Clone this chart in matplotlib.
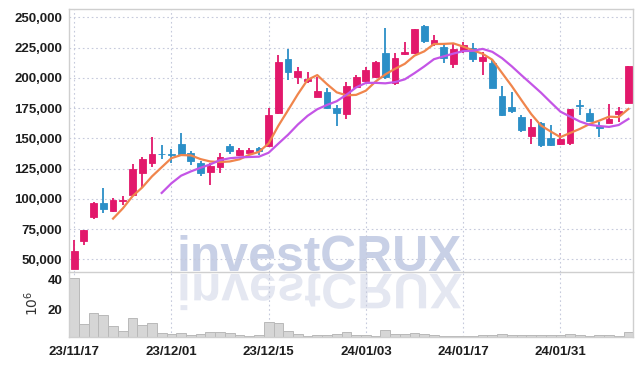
import numpy as np
import pandas as pd
import matplotlib
matplotlib.use('Agg')
import matplotlib.pyplot as plt
from matplotlib.textpath import TextPath
from matplotlib.patches import PathPatch
from matplotlib.font_manager import FontProperties
from matplotlib.transforms import Affine2D

# trading days
dates = ['23/11/17', '23/11/20', '23/11/21', '23/11/22', '23/11/23', '23/11/24',
         '23/11/27', '23/11/28', '23/11/29', '23/11/30', '23/12/01', '23/12/04',
         '23/12/05', '23/12/06', '23/12/07', '23/12/08', '23/12/11', '23/12/12',
         '23/12/13', '23/12/14', '23/12/15', '23/12/18', '23/12/19', '23/12/20',
         '23/12/21', '23/12/22', '23/12/26', '23/12/27', '23/12/28', '24/01/02',
         '24/01/03', '24/01/04', '24/01/05', '24/01/08', '24/01/09', '24/01/10',
         '24/01/11', '24/01/12', '24/01/15', '24/01/16', '24/01/17', '24/01/18',
         '24/01/19', '24/01/22', '24/01/23', '24/01/24', '24/01/25', '24/01/26',
         '24/01/29', '24/01/30', '24/01/31', '24/02/01', '24/02/02', '24/02/05',
         '24/02/06', '24/02/07', '24/02/08', '24/02/13']

opens = [42000, 65400, 85200, 96300, 90200, 98500, 103100, 121600, 129800, 137300,
         137000, 145300, 138100, 129600, 122400, 126500, 143600, 136000, 138100, 142000,
         143600, 171200, 215500, 200900, 197400, 184400, 188500, 174800, 169800, 192200,
         197400, 200700, 220700, 195500, 219400, 220300, 243100, 227700, 225700, 211200,
         222400, 224400, 214100, 212500, 185000, 176100, 167900, 152200, 162600, 150000,
         145000, 146400, 177200, 170700, 160200, 162900, 169800, 179400]
highs = [66000, 74500, 97000, 108700, 100900, 102300, 128500, 134300, 150800, 144500,
         140900, 154100, 139800, 131500, 129300, 137600, 145300, 142200, 141700, 142500,
         174800, 218800, 223600, 208700, 204500, 200400, 191300, 177500, 196800, 202100,
         208700, 214100, 240900, 220300, 229800, 240500, 243500, 235400, 228500, 227900,
         229800, 228500, 221100, 214700, 193200, 188500, 169300, 165700, 163700, 161000,
         154100, 174500, 181700, 174000, 163700, 178400, 175600, 210000]
lows = [42000, 61800, 83000, 88000, 88900, 94900, 103000, 110000, 126500, 132700,
        129300, 136200, 127900, 118800, 111400, 121600, 137000, 135400, 137600, 136200,
        142800, 170100, 198200, 194900, 195500, 184000, 174500, 160200, 165700, 191500,
        195500, 199600, 198800, 194100, 218800, 220000, 228500, 226300, 212500, 207900,
        220300, 213300, 202300, 191300, 168500, 170700, 155500, 145300, 142600, 143600,
        144500, 144500, 169300, 164000, 150800, 162500, 163700, 179000]
closes = [57000, 74200, 96500, 91300, 99000, 99000, 124600, 132900, 137000, 136900,
          136600, 137400, 131500, 121600, 127100, 134300, 139800, 140300, 140100, 139500,
          169300, 212800, 205000, 205600, 199000, 189100, 175300, 171200, 193200, 200900,
          206400, 213100, 200900, 216100, 221600, 240300, 230700, 231200, 216600, 223800,
          227100, 215300, 216900, 191800, 169300, 172800, 156900, 159600, 144500, 144500,
          149400, 174000, 176500, 164500, 158800, 165700, 172600, 209800]
# volume in millions of shares
volume = [40.7, 10.0, 17.3, 16.2, 8.9, 5.5, 14.0, 9.5, 10.7, 4.0,
          3.3, 4.0, 2.7, 3.3, 4.7, 4.7, 4.0, 2.9, 2.2, 2.9,
          11.3, 10.7, 5.3, 3.5, 1.9, 2.7, 2.7, 3.5, 4.7, 2.9,
          2.9, 2.2, 6.0, 3.5, 3.5, 4.0, 3.5, 2.9, 2.4, 2.4,
          2.2, 2.2, 2.7, 2.9, 3.3, 3.1, 3.1, 3.1, 3.1, 3.1,
          2.7, 3.3, 2.7, 2.2, 2.7, 2.7, 2.2, 4.7]

tick_dates = ['23/11/17', '23/12/01', '23/12/15', '24/01/03', '24/01/17', '24/01/31']
price_ticks = [50000, 75000, 100000, 125000, 150000, 175000, 200000, 225000, 250000]
vol_ticks = [20, 40]

UP = '#e2186b'
DOWN = '#2b8fc7'
GRID = '#c6cadc'
FRAME = '#cfcfcf'
TXT = '#1e1e1e'
tick_font = ['Liberation Sans', 'DejaVu Sans']

W, H = 643, 366
fig = plt.figure(figsize=(W / 100, H / 100), dpi=100)
fig.patch.set_facecolor('white')

L, R = 69.3, 633.3
ax = fig.add_axes([L / W, 1 - 272.3 / H, (R - L) / W, 263 / H])
axv = fig.add_axes([L / W, 1 - 337.3 / H, (R - L) / W, 65 / H], sharex=ax)
for a in (ax, axv):
    a.set_facecolor('none')

df = pd.DataFrame({'o': opens, 'h': highs, 'l': lows, 'c': closes, 'v': volume})
x = np.arange(len(dates))
colors = np.where(df.c >= df.o, UP, DOWN)

# candles
ax.vlines(x, df.l, df.h, color=colors, lw=1.3, zorder=2)
body = (df.c - df.o).abs().clip(lower=300)
ax.bar(x, body, bottom=np.minimum(df.o, df.c), width=0.7, color=colors,
       edgecolor=colors, lw=0.6, zorder=3)

# moving averages
ax.plot(x, df.c.rolling(5).mean(), color='#f0854c', lw=1.6, zorder=4)
ax.plot(x, df.c.rolling(10).mean(), color='#c455e6', lw=1.6, zorder=4)

# volume
axv.bar(x, df.v, width=1.0, color='#d6d6d6', edgecolor='#b9b9b9', lw=0.7, zorder=2)

ax.set_xlim(-0.5, len(dates) - 0.5)
ax.set_ylim(39200, 256700)
axv.set_ylim(1.3, 44.7)

ax.set_yticks(price_ticks)
ax.set_yticklabels([f'{p:,}' for p in price_ticks])
axv.set_yticks(vol_ticks)
axv.set_xticks([dates.index(d) for d in tick_dates])
axv.set_xticklabels(tick_dates)
ax.tick_params(axis='x', labelbottom=False)

for a in (ax, axv):
    a.grid(True, color=GRID, linestyle=(0, (1.5, 2.5)), lw=0.8, zorder=0)
    a.tick_params(length=0, pad=5, labelsize=9.5, labelcolor=TXT)
    for lab in a.get_xticklabels() + a.get_yticklabels():
        lab.set_family(tick_font)
        lab.set_fontweight('bold')
    for s in a.spines.values():
        s.set_color(FRAME)
        s.set_linewidth(1.0)
axv.grid(False, axis='y')
axv.spines['top'].set_visible(False)
axv.tick_params(axis='x', pad=6)

fig.text(31.7 / W, 1 - 303 / H, r'$10^6$', rotation=90, ha='center', va='center',
         fontsize=10, color='#333333')

# watermark with reflection
wm = 'investCRUX'
wm_pt = 35.9
wx, wy = 177, 271
fig.text(wx / W, 1 - wy / H, wm, fontsize=wm_pt, fontweight='bold',
         family=['Liberation Sans', 'DejaVu Sans'], color='#c8d0e6',
         ha='left', va='baseline', zorder=-2)
tp = TextPath((0, 0), wm, size=wm_pt,
              prop=FontProperties(family=['Liberation Sans', 'DejaVu Sans'], weight='bold'))
tr = Affine2D().scale(1 / 72, -1 / 72).translate(wx / 100, (H - 274) / 100) + fig.dpi_scale_trans
fig.patches.append(PathPatch(tp, transform=tr, facecolor='#e4e7f1', edgecolor='none',
                             zorder=-2, figure=fig))

fig.savefig('out.png', dpi=100)
